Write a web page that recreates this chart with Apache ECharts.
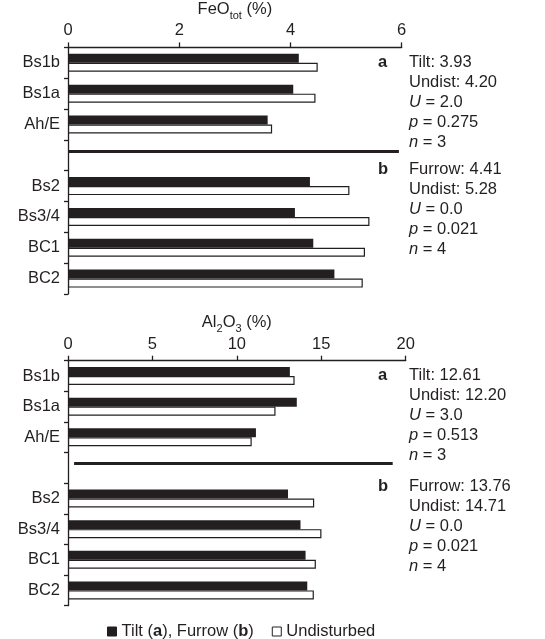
<!DOCTYPE html>
<html>
<head>
<meta charset="utf-8">
<script src="https://cdn.jsdelivr.net/npm/echarts@6/dist/echarts.min.js"></script>
<style>
html,body{margin:0;padding:0;background:#fff;}
#chart{width:545px;height:639px;}
</style>
</head>
<body>
<div id="chart"></div>
<script>
// ---- data ----
const horizons = ['Bs1b', 'Bs1a', 'Ah/E', '', 'Bs2', 'Bs3/4', 'BC1', 'BC2'];
const gapIndex = 3;

const feoDisturbed = [4.15, 4.05, 3.59, null, 4.35, 4.08, 4.41, 4.79];
const feoUndisturbed = [4.49, 4.45, 3.67, null, 5.06, 5.42, 5.34, 5.30];
const feoTicks = { min: 0, max: 6, interval: 2 };
const feoSeparator = [0, 5.95];

const alDisturbed = [13.14, 13.55, 11.13, null, 13.03, 13.77, 14.07, 14.17];
const alUndisturbed = [13.42, 12.29, 10.88, null, 14.58, 15.01, 14.68, 14.56];
const alTicks = { min: 0, max: 20, interval: 5 };
const alSeparator = [0.36, 19.23];

const feoStatsA = ['Tilt: 3.93', 'Undist: 4.20', '{i|U} = 2.0', '{i|p} = 0.275', '{i|n} = 3'];
const feoStatsB = ['Furrow: 4.41', 'Undist: 5.28', '{i|U} = 0.0', '{i|p} = 0.021', '{i|n} = 4'];
const alStatsA = ['Tilt: 12.61', 'Undist: 12.20', '{i|U} = 3.0', '{i|p} = 0.513', '{i|n} = 3'];
const alStatsB = ['Furrow: 13.76', 'Undist: 14.71', '{i|U} = 0.0', '{i|p} = 0.021', '{i|n} = 4'];

const seriesNames = ['Tilt (a), Furrow (b)', 'Undisturbed'];

// ---- style ----
const FONT = "'Liberation Sans', Arial, Helvetica, sans-serif";
const INK = '#231f20';
const FS = 16.5;

const chart = echarts.init(document.getElementById('chart'), null, { renderer: 'canvas' });

function xAxisDef(gridIndex, ticks, nameRich, gap) {
  return {
    type: 'value', gridIndex: gridIndex, position: 'top',
    min: ticks.min, max: ticks.max, interval: ticks.interval,
    name: nameRich, nameLocation: 'middle', nameGap: gap,
    nameTextStyle: {
      color: INK, fontFamily: FONT, fontSize: FS,
      rich: {
        n: { fontSize: FS, fontFamily: FONT, color: INK, lineHeight: 24, verticalAlign: 'middle' },
        s: { fontSize: 11, fontFamily: FONT, color: INK, lineHeight: 11, verticalAlign: 'bottom' }
      }
    },
    axisLine: { show: true, onZero: false, lineStyle: { color: INK, width: 1.3 } },
    axisTick: { show: true, inside: false, length: 5, lineStyle: { color: INK, width: 1.3 } },
    axisLabel: { color: INK, fontFamily: FONT, fontSize: FS, margin: 8 },
    splitLine: { show: false }
  };
}
function yAxisDef(gridIndex) {
  return {
    type: 'category', gridIndex: gridIndex, inverse: true, data: horizons,
    axisLine: { show: true, lineStyle: { color: INK, width: 1.3 } },
    axisTick: { show: true, alignWithLabel: false, length: 4, lineStyle: { color: INK, width: 1.3 } },
    axisLabel: { color: INK, fontFamily: FONT, fontSize: FS, margin: 8 },
    splitLine: { show: false }
  };
}
function sepLine(range) {
  return {
    silent: true, symbol: ['none', 'none'], animation: false,
    label: { show: false },
    lineStyle: { color: INK, width: 3, type: 'solid' },
    emphasis: { disabled: true },
    data: [[{ coord: [range[0], gapIndex] }, { coord: [range[1], gapIndex] }]]
  };
}
function barSeries(name, data, idx, dark, sep) {
  const s = {
    name: name, type: 'bar', xAxisIndex: idx, yAxisIndex: idx, data: data,
    barWidth: 9, barGap: '0%',
    itemStyle: dark ? { color: INK, borderColor: INK, borderWidth: 0 }
                    : { color: '#ffffff', borderColor: INK, borderWidth: 1.2 },
    emphasis: { disabled: true }
  };
  if (sep) s.markLine = sep;
  return s;
}

function statBlock(lines, label, x0, yFirst) {
  const els = [];
  els.push({
    type: 'text', left: x0 - 31, top: yFirst - 9.5,
    style: { text: label, fontFamily: FONT, fontSize: FS, fontWeight: 'bold', fill: INK }
  });
  lines.forEach(function (t, k) {
    els.push({
      type: 'text', left: x0, top: yFirst - 9.5 + k * 20,
      style: {
        text: t, fontFamily: FONT, fontSize: FS, fill: INK,
        rich: { i: { fontStyle: 'italic', fontFamily: FONT, fontSize: FS, fill: INK } }
      }
    });
  });
  return els;
}

const graphics = [].concat(
  statBlock(feoStatsA, 'a', 409, 63.2),
  statBlock(feoStatsB, 'b', 409, 170.8),
  statBlock(alStatsA, 'a', 409, 376.3),
  statBlock(alStatsB, 'b', 409, 487.2)
);

const option = {
  animation: false,
  backgroundColor: '#ffffff',
  textStyle: { fontFamily: FONT, color: INK },
  grid: [
    { left: 68, top: 46, right: 143.3, height: 248 },
    { left: 68, top: 360.7, right: 139.3, height: 245 }
  ],
  xAxis: [
    xAxisDef(0, feoTicks, '{n|FeO}{s|tot}{n| (%)}', 20.5),
    xAxisDef(1, alTicks, '{n|Al}{s|2}{n|O}{s|3}{n| (%)}', 23.5)
  ],
  yAxis: [yAxisDef(0), yAxisDef(1)],
  legend: {
    data: seriesNames, left: 102, top: 618,
    itemWidth: 9, itemHeight: 9, itemGap: 18,
    icon: 'rect',
    selectedMode: false,
    itemStyle: { borderWidth: 1 },
    textStyle: {
      color: INK, fontFamily: FONT, fontSize: FS,
      rich: {
        n: { fontSize: FS, fontFamily: FONT, color: INK },
        b: { fontSize: FS, fontFamily: FONT, color: INK, fontWeight: 'bold' }
      }
    },
    formatter: function (name) {
      if (name === seriesNames[0]) return '{n|Tilt (}{b|a}{n|), Furrow (}{b|b}{n|)}';
      return '{n|' + name + '}';
    }
  },
  series: [
    barSeries(seriesNames[0], feoDisturbed, 0, true, sepLine(feoSeparator)),
    barSeries(seriesNames[1], feoUndisturbed, 0, false),
    barSeries(seriesNames[0], alDisturbed, 1, true, sepLine(alSeparator)),
    barSeries(seriesNames[1], alUndisturbed, 1, false)
  ],
  graphic: graphics
};
chart.setOption(option);
</script>
</body>
</html>
